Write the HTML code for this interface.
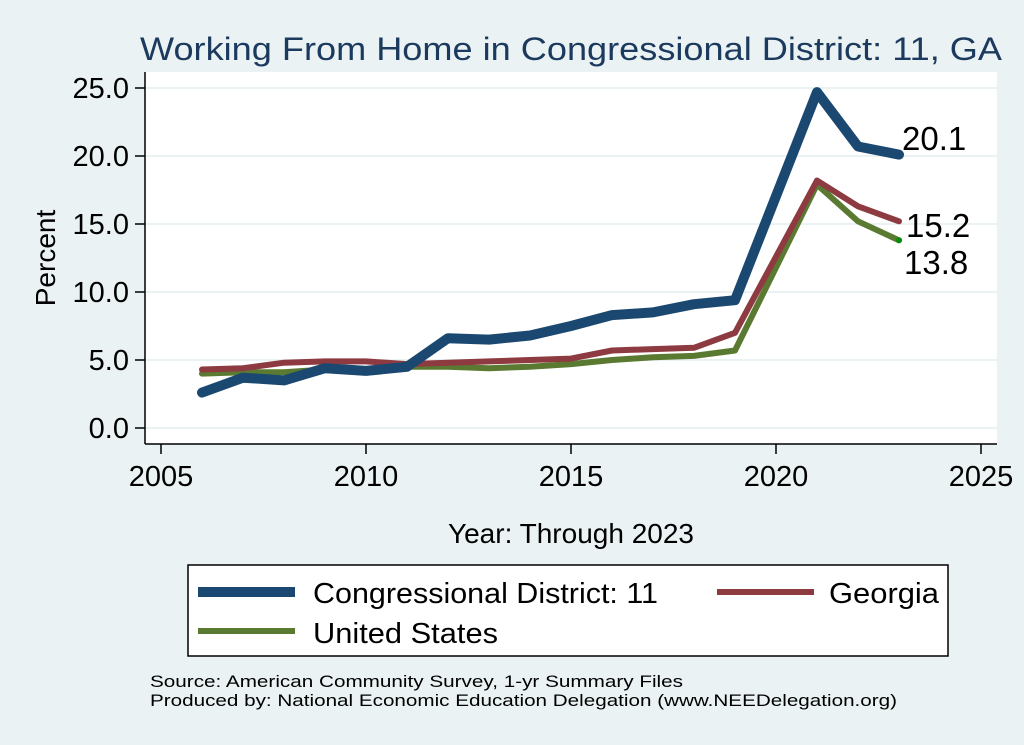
<!DOCTYPE html>
<html><head><meta charset="utf-8"><style>
html,body{margin:0;padding:0;background:#eaf2f3;}
svg{display:block;font-family:"Liberation Sans",Arial,sans-serif;}
</style></head><body>
<svg width="1024" height="745" viewBox="0 0 1024 745">
<rect width="1024" height="745" fill="#eaf2f3"/>
<text x="140" y="60" font-size="32" fill="#1c3a5e" textLength="862" lengthAdjust="spacingAndGlyphs">Working From Home in Congressional District: 11, GA</text>
<rect x="145" y="72" width="852" height="372" fill="#fff"/>
<g stroke="#eaf2f3" stroke-width="2">
<line x1="146" x2="997" y1="88" y2="88"/><line x1="146" x2="997" y1="156" y2="156"/>
<line x1="146" x2="997" y1="224" y2="224"/><line x1="146" x2="997" y1="292" y2="292"/>
<line x1="146" x2="997" y1="360" y2="360"/><line x1="146" x2="997" y1="428" y2="428"/>
</g>
<g stroke="#000" stroke-width="1.5">
<line x1="145" y1="72" x2="145" y2="444"/><line x1="145" y1="444" x2="997" y2="444"/>
<line x1="135" x2="145" y1="88" y2="88"/><line x1="135" x2="145" y1="156" y2="156"/><line x1="135" x2="145" y1="224" y2="224"/><line x1="135" x2="145" y1="292" y2="292"/><line x1="135" x2="145" y1="360" y2="360"/><line x1="135" x2="145" y1="428" y2="428"/>
<line x1="161" x2="161" y1="444" y2="454"/><line x1="366" x2="366" y1="444" y2="454"/><line x1="571" x2="571" y1="444" y2="454"/><line x1="776" x2="776" y1="444" y2="454"/><line x1="981" x2="981" y1="444" y2="454"/>
</g>
<g font-size="29" text-anchor="end" fill="#000">
<text x="129" y="98">25.0</text><text x="129" y="166">20.0</text><text x="129" y="234">15.0</text><text x="129" y="302">10.0</text><text x="129" y="370">5.0</text><text x="129" y="438">0.0</text>
</g>
<g font-size="29" text-anchor="middle" fill="#000">
<text x="161" y="486">2005</text><text x="366" y="486">2010</text><text x="571" y="486">2015</text><text x="776" y="486">2020</text><text x="981" y="486">2025</text>
</g>
<text x="55" y="258" font-size="28" text-anchor="middle" transform="rotate(-90 55 258)">Percent</text>
<text x="571" y="543" font-size="28" text-anchor="middle">Year: Through 2023</text>
<g fill="none" stroke-linejoin="round" stroke-linecap="round">
<polyline stroke="#5a7a32" stroke-width="6" points="202,373.6 243,372.2 284,372.2 325,369.5 366,369.5 407,366.8 448,366.8 489,368.2 530,366.8 571,364.1 612,360 653,357.3 694,355.9 735,350.5 817,184.6 858,221.3 899,240.3"/>
<polyline stroke="#8e3a41" stroke-width="6" points="202,369.5 243,368.2 284,362.7 325,361.4 366,361.4 407,364.1 448,362.7 489,361.4 530,360 571,358.6 612,350.5 653,349.1 694,347.8 735,332.8 817,180.5 858,206.3 899,221.3"/>
<polyline stroke="#1b4870" stroke-width="10" points="202,392.6 243,377.7 284,380.4 325,368.2 366,370.9 407,366.8 448,338.2 489,339.6 530,335.5 571,326 612,315.1 653,312.4 694,304.2 735,300.2 817,92.1 858,146.5 899,154.6"/>
</g>
<circle cx="899" cy="240.3" r="3" fill="#0a8a0a"/>
<g font-size="33" fill="#000">
<text x="902" y="150">20.1</text><text x="906" y="237">15.2</text><text x="904" y="274">13.8</text>
</g>
<rect x="188" y="565" width="760" height="91" fill="#fff" stroke="#000" stroke-width="1.5"/>
<line x1="198" x2="295" y1="592" y2="592" stroke="#1b4870" stroke-width="10"/>
<line x1="717" x2="814" y1="592" y2="592" stroke="#8e3a41" stroke-width="6"/>
<line x1="198" x2="295" y1="631" y2="631" stroke="#5a7a32" stroke-width="6"/>
<g font-size="29" fill="#000">
<text x="313" y="603" textLength="345" lengthAdjust="spacingAndGlyphs">Congressional District: 11</text>
<text x="829" y="603" textLength="110" lengthAdjust="spacingAndGlyphs">Georgia</text>
<text x="313" y="643" textLength="185" lengthAdjust="spacingAndGlyphs">United States</text>
</g>
<g font-size="17" fill="#000">
<text x="150" y="687" textLength="533" lengthAdjust="spacingAndGlyphs">Source: American Community Survey, 1-yr Summary Files</text>
<text x="150" y="706" textLength="747" lengthAdjust="spacingAndGlyphs">Produced by: National Economic Education Delegation (www.NEEDelegation.org)</text>
</g>
</svg>
</body></html>
